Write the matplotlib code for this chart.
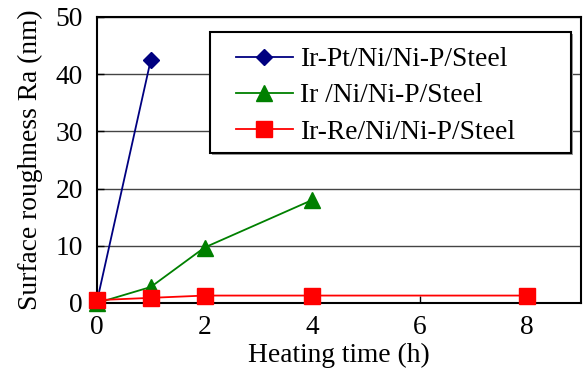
import matplotlib
matplotlib.use("Agg")
import matplotlib.pyplot as plt
from matplotlib.patches import Rectangle

plt.rcParams['font.family'] = ['Liberation Serif', 'DejaVu Serif']
plt.rcParams['mathtext.fontset'] = 'stix'

x_pt = [0, 1]
y_pt = [0.3, 42.5]
x_ir = [0, 1, 2, 4]
y_ir = [0.0, 2.8, 9.7, 18.0]
x_re = [0, 1, 2, 4, 8]
y_re = [0.5, 0.9, 1.3, 1.3, 1.3]
labels = ['Ir-Pt/Ni/Ni-P/Steel', 'Ir /Ni/Ni-P/Steel', 'Ir-Re/Ni/Ni-P/Steel']

FS = 19.8
W, H = 586, 378
fig = plt.figure(figsize=(W/100, H/100), dpi=100)
ax = fig.add_axes([97/W, 1-303/H, (581-97)/W, (303-17)/H])

ax.plot(x_pt, y_pt, color='#000080', marker='D', markersize=8, lw=1.3, label=labels[0], clip_on=False, zorder=3)
ax.plot(x_ir, y_ir, color='#008000', marker='^', markersize=11, lw=1.3, label=labels[1], clip_on=False, zorder=3)
ax.plot(x_re, y_re, color='#ff0000', marker='s', markersize=11.5, lw=1.3, label=labels[2], clip_on=False, zorder=4)

ax.set_xlim(0, 9)
ax.set_ylim(0, 50)
ax.set_xticks([0, 2, 4, 6, 8])
ax.set_yticks([0, 10, 20, 30, 40, 50])
ax.yaxis.grid(True, color='#444444', lw=1)
ax.set_axisbelow(True)
ax.tick_params(direction='in', labelsize=FS, length=5, width=1)
ax.tick_params(axis='x', pad=9)
ax.tick_params(axis='y', pad=10)
for s in ax.spines.values():
    s.set_linewidth(1.5)
ax.set_xlabel('Heating time (h)', fontsize=FS, labelpad=2)
ax.set_ylabel('Surface roughness Ra (nm)', fontsize=FS, labelpad=9)

# legend frame with slight shadow
lx0, ly0, lx1, ly1 = 210, 32, 571, 153
ax.add_patch(Rectangle((lx0/W + 2/W, 1-ly1/H - 2/H), (lx1-lx0)/W, (ly1-ly0)/H,
                       transform=fig.transFigure, facecolor='#999999', edgecolor='none',
                       zorder=4.6, clip_on=False))
ax.add_patch(Rectangle((lx0/W, 1-ly1/H), (lx1-lx0)/W, (ly1-ly0)/H,
                       transform=fig.transFigure, facecolor='white', edgecolor='black', lw=1.5,
                       zorder=4.7, clip_on=False))

leg = ax.legend(loc='upper left', bbox_to_anchor=(236/W, 1-47/H), bbox_transform=fig.transFigure,
                fontsize=FS, frameon=False, borderpad=0, borderaxespad=0,
                handlelength=2.07, labelspacing=0.4, handletextpad=0.25)
leg.set_zorder(10)
fig.savefig('out.png', dpi=100)
